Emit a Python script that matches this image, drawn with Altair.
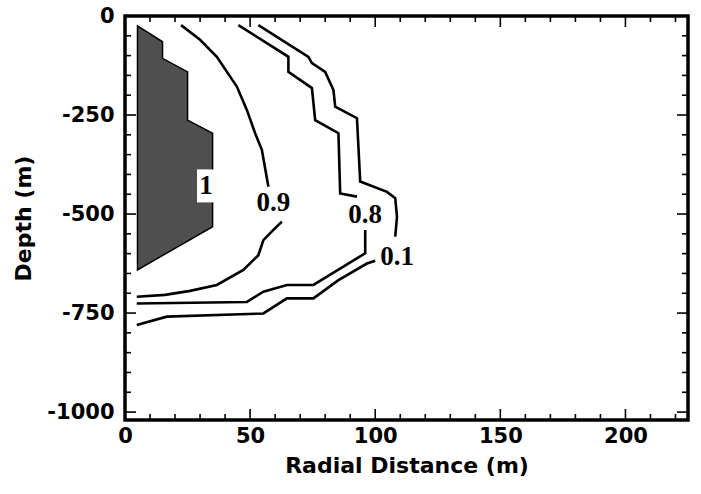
import altair as alt
import pandas as pd

# ---- data ----
# Shaded region (contour level 1): right boundary x as function of depth y, left boundary at x=5
poly_y = [-25, -65, -107, -141, -263, -296, -532, -641]
poly_xr = [5, 15, 15, 25, 25, 35, 35, 5]
poly_xl = 5

# Contour 0.9 (two segments, broken by label)
c09_a_x = [22.4, 30, 36.7, 44.7, 48.7, 52, 54.7, 57.3]
c09_a_y = [-23, -60, -103, -178, -237, -296, -338, -431]
c09_b_x = [62.7, 59.3, 55.3, 53.3, 47.3, 36.7, 26, 16, 4.7]
c09_b_y = [-519, -540, -566, -604, -641, -679, -694, -704, -709]

# Contour 0.8
c08_a_x = [45.3, 65.3, 65.3, 74.7, 76, 85.3, 86, 92.7]
c08_a_y = [-23, -103, -141, -182, -263, -296, -448, -456]
c08_b_x = [96, 96, 75.3, 64.7, 55.3, 48.7, 4.7]
c08_b_y = [-540, -599, -679, -679, -696, -722, -726]

# Contour 0.1
c01_a_x = [53.3, 73.3, 74.7, 80, 83.3, 84, 92.7, 94, 104.7, 108, 108.7, 108]
c01_a_y = [-23, -103, -119, -141, -187, -229, -258, -418, -444, -460, -507, -557]
c01_b_x = [100, 96.7, 85.3, 75.3, 64.7, 55.3, 16.7, 4.7]
c01_b_y = [-618, -625, -667, -713, -713, -751, -759, -780]

label_text = ["1", "0.9", "0.8", "0.1"]
label_x = [32.4, 59.3, 96, 108.8]
label_y = [-429, -472, -503, -608]

x_tick_labels = [0, 50, 100, 150, 200]
y_tick_labels = [0, -250, -500, -750, -1000]
x_minor = list(range(0, 221, 10))
y_minor = list(range(0, -1001, -50))

W, H = 563, 404

# ---- tables ----
poly = pd.DataFrame({"y": poly_y, "xr": poly_xr, "xl": [poly_xl] * len(poly_y)})

rows = []
for name, segs in [
    ("0.9", [(c09_a_x, c09_a_y), (c09_b_x, c09_b_y)]),
    ("0.8", [(c08_a_x, c08_a_y), (c08_b_x, c08_b_y)]),
    ("0.1", [(c01_a_x, c01_a_y), (c01_b_x, c01_b_y)]),
]:
    for si, (xs_, ys_) in enumerate(segs):
        for i, (xv, yv) in enumerate(zip(xs_, ys_)):
            rows.append({"seg": f"{name}_{si}", "i": i, "x": xv, "y": yv})
lines = pd.DataFrame(rows)

labels = pd.DataFrame({"t": label_text, "x": label_x, "y": label_y})

xs = alt.Scale(domain=[0, 225], nice=False, zero=False)
ys = alt.Scale(domain=[-1020, 0], nice=False, zero=False)

font = "DejaVu Sans"

xaxis = alt.Axis(values=x_tick_labels, title="Radial Distance (m)", grid=False, domain=False,
                 ticks=False, labelFont=font, labelFontSize=21, labelFontWeight="bold",
                 labelColor="black", labelPadding=5, labelFlush=False, format="d",
                 titleFont=font, titleFontSize=22,
                 titleFontWeight="bold", titleColor="black", titlePadding=9)
yaxis = alt.Axis(values=y_tick_labels, title="Depth (m)", grid=False, domain=False,
                 ticks=False, labelFont=font, labelFontSize=21, labelFontWeight="bold",
                 labelColor="black", labelPadding=11, labelFlush=False,
                 labelExpr="datum.value == 0 ? '0' : '-' + format(-datum.value, 'd')",
                 titleFont=font, titleFontSize=22,
                 titleFontWeight="bold", titleColor="black", titlePadding=11)

area = alt.Chart(poly).mark_area(orient="horizontal", color="#4f4f4f", stroke="black",
                                 strokeWidth=1.5, opacity=1).encode(
    y=alt.Y("y:Q", scale=ys, axis=yaxis),
    x=alt.X("xr:Q", scale=xs, axis=xaxis),
    x2="xl:Q",
)

line = alt.Chart(lines).mark_line(color="black", strokeWidth=2.6).encode(
    x=alt.X("x:Q", scale=xs),
    y=alt.Y("y:Q", scale=ys),
    detail="seg:N",
    order="i:Q",
)

box = alt.Chart(labels[labels["t"] == "1"]).mark_point(
    shape="M-0.55,-1L0.55,-1L0.55,1L-0.55,1Z", filled=True, color="white", opacity=1,
    size=1089, strokeWidth=0).encode(
    x=alt.X("x:Q", scale=xs), y=alt.Y("y:Q", scale=ys))

text = alt.Chart(labels).mark_text(font="Liberation Serif", fontWeight="bold", fontSize=27,
                                   color="black").encode(
    x=alt.X("x:Q", scale=xs), y=alt.Y("y:Q", scale=ys), text="t:N")

xt = pd.DataFrame({"v": x_minor, "major": [v % 50 == 0 for v in x_minor]})
yt = pd.DataFrame({"v": y_minor, "major": [v % 250 == 0 for v in y_minor]})

def xticks(base, sign, major):
    d = xt[xt["major"] == major]
    L = 11 if major else 6
    return alt.Chart(d).mark_rule(color="black", strokeWidth=1.6).encode(
        x=alt.X("v:Q", scale=xs), y=alt.value(base), y2=alt.value(base + sign * L))

def yticks(base, sign, major):
    d = yt[yt["major"] == major]
    L = 11 if major else 6
    return alt.Chart(d).mark_rule(color="black", strokeWidth=1.6).encode(
        y=alt.Y("v:Q", scale=ys), x=alt.value(base), x2=alt.value(base + sign * L))

ticks = [xticks(H, -1, True), xticks(H, -1, False), xticks(0, 1, True), xticks(0, 1, False),
         yticks(0, 1, True), yticks(0, 1, False), yticks(W, -1, True), yticks(W, -1, False)]

chart = alt.layer(area, line, box, text, *ticks).properties(
    width=W, height=H,
    autosize=alt.AutoSizeParams(type="none"),
    padding={"left": 125, "top": 16, "right": 13, "bottom": 74},
    background="white",
).configure_view(stroke="black", strokeWidth=3.5)

chart.save("out.html", embed_options={"renderer": "svg", "actions": False})
